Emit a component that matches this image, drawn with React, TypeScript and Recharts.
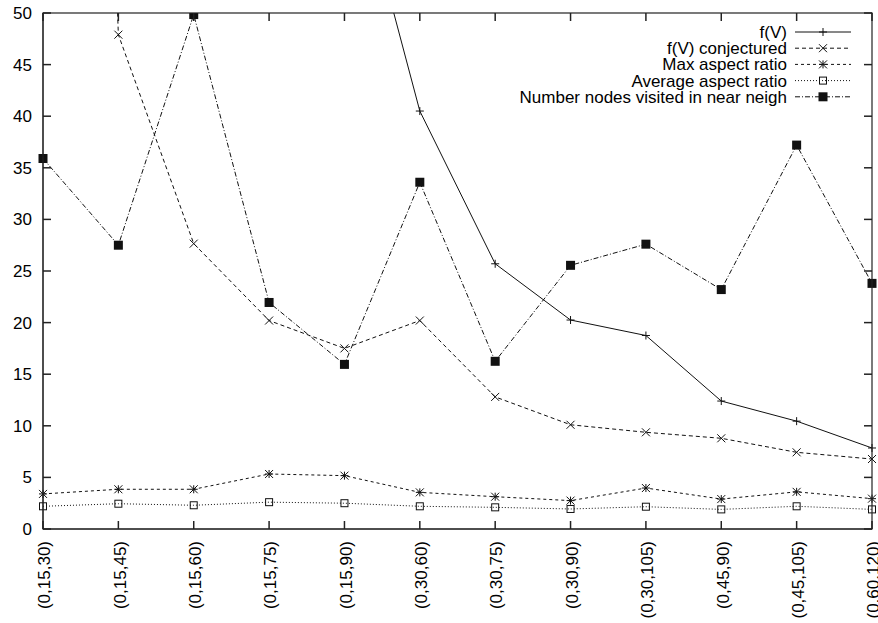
import { LineChart, Line, XAxis, YAxis } from "recharts";

// parameter sets along the x axis
const CATEGORIES = [
  "(0,15,30)", "(0,15,45)", "(0,15,60)", "(0,15,75)", "(0,15,90)", "(0,30,60)",
  "(0,30,75)", "(0,30,90)", "(0,30,105)", "(0,45,90)", "(0,45,105)", "(0,60,120)",
];

// values (the first f(V) points are above the 50 cut-off)
const F_V = [300, 200, 140, 100, 68, 40.5, 25.7, 20.25, 18.75, 12.4, 10.45, 7.85];
const F_V_CONJ = [250, 47.9, 27.65, 20.2, 17.5, 20.2, 12.8, 10.1, 9.37, 8.79, 7.43, 6.78];
const MAX_AR = [3.4, 3.85, 3.85, 5.33, 5.17, 3.55, 3.13, 2.75, 3.97, 2.9, 3.6, 2.94];
const AVG_AR = [2.2, 2.45, 2.3, 2.6, 2.5, 2.2, 2.1, 1.94, 2.16, 1.9, 2.2, 1.9];
const NODES = [35.9, 27.5, 49.85, 21.95, 15.95, 33.6, 16.25, 25.55, 27.6, 23.2, 37.2, 23.8];

const Y_TICKS = [0, 5, 10, 15, 20, 25, 30, 35, 40, 45, 50];
const Y_MAX = 50;

const SERIES = [
  { key: "fv", name: "f(V)", dash: undefined, marker: "plus" },
  { key: "conj", name: "f(V) conjectured", dash: "4 3", marker: "cross" },
  { key: "max", name: "Max aspect ratio", dash: "3 3", marker: "star" },
  { key: "avg", name: "Average aspect ratio", dash: "1 2", marker: "box" },
  { key: "nodes", name: "Number nodes visited in near neigh", dash: "5 2 1 2", marker: "fbox" },
];

const data = CATEGORIES.map((cat, i) => ({
  cat,
  fv: F_V[i],
  conj: F_V_CONJ[i],
  max: MAX_AR[i],
  avg: AVG_AR[i],
  nodes: NODES[i],
}));

const W = 878;
const H = 623;
const MARGIN = { top: 13, right: 6, bottom: 0, left: 0 };
const Y_AXIS_W = 43;
const X_AXIS_H = 94;
// plot box, follows from the sizes above
const BOX = {
  left: MARGIN.left + Y_AXIS_W,
  right: W - MARGIN.right,
  top: MARGIN.top,
  bottom: H - MARGIN.bottom - X_AXIS_H,
};

const INK = "#111";
const AXIS = "#222";
const FONT = "'Liberation Sans', Arial, Helvetica, sans-serif";
const TICK_LEN = 8;

function Marker({ kind, cx, cy }: { kind: string; cx: number; cy: number }) {
  const s = 4;
  const plus = `M${cx - s},${cy}H${cx + s}M${cx},${cy - s}V${cy + s}`;
  const cross = `M${cx - s},${cy - s}L${cx + s},${cy + s}M${cx - s},${cy + s}L${cx + s},${cy - s}`;
  if (kind === "plus") return <path d={plus} stroke={INK} strokeWidth={1} fill="none" />;
  if (kind === "cross") return <path d={cross} stroke={INK} strokeWidth={1} fill="none" />;
  if (kind === "star") return <path d={plus + cross} stroke={INK} strokeWidth={1} fill="none" />;
  if (kind === "box")
    return <rect x={cx - 3.5} y={cy - 3.5} width={7} height={7} fill="none" stroke={INK} strokeWidth={1} />;
  return <rect x={cx - 4.5} y={cy - 4.5} width={9} height={9} fill={INK} />;
}

function XTick(props: any) {
  const { x, y, payload } = props;
  return (
    <text
      transform={`translate(${x},${y}) rotate(-90)`}
      textAnchor="end"
      dy="0.43em"
      fontSize={17}
      fontFamily={FONT}
      fill="#000"
    >
      {payload.value}
    </text>
  );
}

// gnuplot-style border: top and right edges with mirrored inward ticks
function BorderBox() {
  const step = (BOX.right - BOX.left) / (CATEGORIES.length - 1);
  const yOf = (v: number) => BOX.bottom - (v / Y_MAX) * (BOX.bottom - BOX.top);
  return (
    <svg width={W} height={H} style={{ position: "absolute", left: 0, top: 0, pointerEvents: "none" }}>
      <rect
        x={BOX.left}
        y={BOX.top}
        width={BOX.right - BOX.left}
        height={BOX.bottom - BOX.top}
        fill="none"
        stroke={AXIS}
        strokeWidth={1.2}
      />
      {CATEGORIES.map((c, i) => (
        <line
          key={c}
          x1={BOX.left + i * step}
          x2={BOX.left + i * step}
          y1={BOX.top}
          y2={BOX.top + TICK_LEN}
          stroke={AXIS}
          strokeWidth={1.5}
        />
      ))}
      {Y_TICKS.map((t) => (
        <line
          key={t}
          x1={BOX.right - TICK_LEN}
          x2={BOX.right}
          y1={yOf(t)}
          y2={yOf(t)}
          stroke={AXIS}
          strokeWidth={1.5}
        />
      ))}
    </svg>
  );
}

function LegendBox() {
  return (
    <svg
      width={560}
      height={90}
      style={{ position: "absolute", left: 300, top: 20, overflow: "visible", pointerEvents: "none" }}
    >
      {SERIES.map((s, i) => {
        const cy = 12 + i * 16.2;
        return (
          <g key={s.key}>
            <text x={487} y={cy} dy="0.35em" textAnchor="end" fontSize={17} fontFamily={FONT} fill="#000">
              {s.name}
            </text>
            <line x1={495} x2={551} y1={cy} y2={cy} stroke={INK} strokeWidth={1} strokeDasharray={s.dash} />
            <Marker kind={s.marker} cx={523} cy={cy} />
          </g>
        );
      })}
    </svg>
  );
}

export default function App() {
  const axisLine = { stroke: AXIS, strokeWidth: 1 };
  const tickLine = { stroke: AXIS, strokeWidth: 1.5 };
  return (
    <div style={{ position: "absolute", left: 0, top: 0, width: W, height: H, background: "#fff" }}>
      <LineChart width={W} height={H} data={data} margin={MARGIN}>
        <XAxis
          dataKey="cat"
          height={X_AXIS_H}
          interval={0}
          tickSize={-TICK_LEN}
          tickMargin={20}
          axisLine={axisLine}
          tickLine={tickLine}
          tick={<XTick />}
        />
        <YAxis
          type="number"
          width={Y_AXIS_W}
          domain={[0, Y_MAX]}
          ticks={Y_TICKS}
          interval={0}
          allowDataOverflow
          tickSize={-TICK_LEN}
          tickMargin={19}
          axisLine={axisLine}
          tickLine={tickLine}
          tick={{ fontSize: 17, fontFamily: FONT, fill: "#000" }}
        />
        {SERIES.map((s) => (
          <Line
            key={s.key}
            dataKey={s.key}
            name={s.name}
            type="linear"
            stroke={INK}
            strokeWidth={1}
            strokeDasharray={s.dash}
            isAnimationActive={false}
            activeDot={false}
            dot={(p: any) => <Marker key={`${s.key}-${p.index}`} kind={s.marker} cx={p.cx} cy={p.cy} />}
          />
        ))}
      </LineChart>
      <BorderBox />
      <LegendBox />
    </div>
  );
}
